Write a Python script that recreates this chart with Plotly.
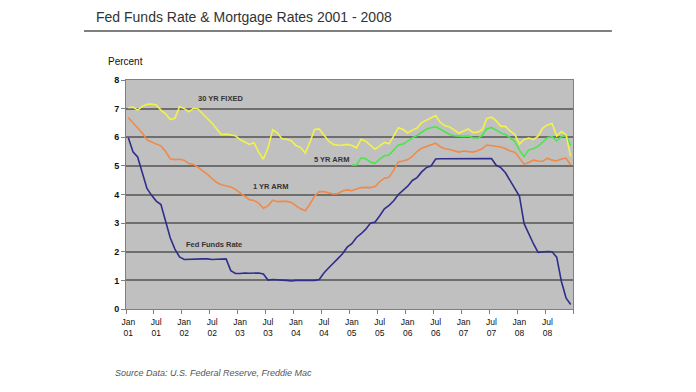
import plotly.graph_objects as go

# month index 0 = Jan 2001 ... 95 = Dec 2008
months = list(range(96))

fed_funds = [5.98, 5.49, 5.31, 4.80, 4.21, 3.97, 3.77, 3.65, 3.07, 2.49, 2.09, 1.82,
             1.73, 1.74, 1.73, 1.75, 1.75, 1.75, 1.73, 1.74, 1.75, 1.75, 1.34, 1.24,
             1.24, 1.26, 1.25, 1.26, 1.26, 1.22, 1.01, 1.03, 1.01, 1.01, 1.00, 0.98,
             1.00, 1.01, 1.00, 1.00, 1.00, 1.03, 1.26, 1.43, 1.61, 1.76, 1.93, 2.16,
             2.28, 2.50, 2.63, 2.79, 3.00, 3.04, 3.26, 3.50, 3.62, 3.78, 4.00, 4.16,
             4.29, 4.49, 4.59, 4.79, 4.94, 4.99, 5.24, 5.25, 5.25, 5.25, 5.25, 5.24,
             5.25, 5.26, 5.26, 5.25, 5.25, 5.25, 5.26, 5.02, 4.94, 4.76, 4.49, 4.24,
             3.94, 2.98, 2.61, 2.28, 1.98, 2.00, 2.01, 2.00, 1.81, 0.97, 0.39, 0.16]

fixed_30 = [7.03, 7.05, 6.95, 7.08, 7.15, 7.16, 7.13, 6.95, 6.82, 6.62, 6.66, 7.07,
            7.00, 6.89, 7.01, 6.99, 6.81, 6.65, 6.49, 6.29, 6.09, 6.11, 6.07, 6.05,
            5.92, 5.84, 5.75, 5.81, 5.48, 5.23, 5.63, 6.26, 6.15, 5.95, 5.93, 5.88,
            5.71, 5.64, 5.45, 5.83, 6.27, 6.29, 6.06, 5.87, 5.75, 5.72, 5.73, 5.75,
            5.71, 5.63, 5.93, 5.86, 5.72, 5.58, 5.70, 5.82, 5.77, 6.07, 6.33, 6.27,
            6.15, 6.25, 6.32, 6.51, 6.60, 6.68, 6.76, 6.52, 6.40, 6.36, 6.24, 6.14,
            6.22, 6.29, 6.16, 6.18, 6.26, 6.66, 6.70, 6.57, 6.38, 6.38, 6.21, 6.10,
            5.76, 5.92, 5.97, 5.92, 6.04, 6.32, 6.43, 6.48, 6.04, 6.20, 6.09, 5.33]

arm_1yr = [6.68, 6.50, 6.35, 6.15, 5.91, 5.82, 5.76, 5.70, 5.50, 5.25, 5.22, 5.23,
           5.20, 5.08, 5.05, 4.95, 4.83, 4.70, 4.55, 4.42, 4.34, 4.30, 4.26, 4.18,
           4.05, 3.92, 3.82, 3.79, 3.70, 3.52, 3.60, 3.80, 3.75, 3.76, 3.76, 3.72,
           3.60, 3.50, 3.43, 3.66, 3.95, 4.10, 4.10, 4.06, 4.02, 4.03, 4.12, 4.16,
           4.13, 4.19, 4.24, 4.25, 4.24, 4.28, 4.45, 4.57, 4.60, 4.85, 5.14, 5.17,
           5.22, 5.33, 5.50, 5.62, 5.67, 5.73, 5.79, 5.67, 5.60, 5.57, 5.53, 5.48,
           5.52, 5.50, 5.48, 5.53, 5.60, 5.73, 5.71, 5.69, 5.66, 5.60, 5.52, 5.48,
           5.27, 5.06, 5.12, 5.20, 5.17, 5.16, 5.27, 5.20, 5.17, 5.24, 5.27, 5.03]

arm_5yr_months = list(range(48, 96))
arm_5yr = [5.03, 5.03, 5.28, 5.25, 5.13, 5.09, 5.24, 5.35, 5.38, 5.56, 5.73, 5.76,
           5.88, 5.98, 6.06, 6.17, 6.28, 6.33, 6.37, 6.28, 6.18, 6.10, 6.05, 6.03,
           6.03, 6.04, 5.98, 5.97, 6.06, 6.30, 6.34, 6.25, 6.15, 6.10, 5.97, 5.86,
           5.55, 5.32, 5.56, 5.60, 5.68, 5.82, 5.98, 6.02, 5.87, 6.02, 6.06, 5.72]

tick_pos = list(range(0, 96, 6))
tick_text = [f"{'Jan' if i % 12 == 0 else 'Jul'}<br>{(1 + i // 12):02d}" for i in tick_pos]
boundary_ticks = [i - 0.5 for i in range(0, 97, 6)]
y_ticks = list(range(0, 9))
y_text = [f"<b>{v}</b>" for v in y_ticks]

FONT = "Liberation Sans, Arial, sans-serif"

fig = go.Figure()
fig.add_trace(go.Scatter(x=months, y=fed_funds, mode="lines", name="Fed Funds Rate",
                         line=dict(color="#2E2E8C", width=1.6)))
fig.add_trace(go.Scatter(x=months, y=arm_1yr, mode="lines", name="1 YR ARM",
                         line=dict(color="#F08A48", width=1.6)))
fig.add_trace(go.Scatter(x=arm_5yr_months, y=arm_5yr, mode="lines", name="5 YR ARM",
                         line=dict(color="#4CE64C", width=1.6)))
fig.add_trace(go.Scatter(x=months, y=fixed_30, mode="lines", name="30 YR FIXED",
                         line=dict(color="#F2F24C", width=1.6)))

label_font = dict(family=FONT, size=7.5, color="#333333")
for txt, xm, yv in [("30 YR FIXED", 19.9, 7.34), ("5 YR ARM", 43.6, 5.21),
                    ("1 YR ARM", 30.5, 4.27), ("Fed Funds Rate", 18.3, 2.24)]:
    fig.add_annotation(x=xm, y=yv, xref="x", yref="y", text=f"<b>{txt}</b>",
                       showarrow=False, font=label_font)

fig.add_annotation(x=-0.072, y=1.275, xref="paper", yref="paper", xanchor="left",
                   yanchor="middle", text="Fed Funds Rate &amp; Mortgage Rates 2001 - 2008",
                   showarrow=False, font=dict(family=FONT, size=14, color="#333333"))
fig.add_annotation(x=-0.045, y=1.079, xref="paper", yref="paper", xanchor="left",
                   yanchor="middle", text="Percent", showarrow=False,
                   font=dict(family=FONT, size=10, color="#111111"))
fig.add_annotation(x=-0.028, y=-0.279, xref="paper", yref="paper", xanchor="left",
                   yanchor="middle", text="<i>Source Data: U.S. Federal Reserve, Freddie Mac</i>",
                   showarrow=False, font=dict(family=FONT, size=9, color="#555555"))

fig.add_shape(type="line", xref="paper", yref="paper", x0=-0.094, x1=1.087,
              y0=1.214, y1=1.214, line=dict(color="#555555", width=1.5))

fig.update_layout(
    width=688, height=384,
    margin=dict(l=118, r=123, t=72, b=83),
    paper_bgcolor="white", plot_bgcolor="#C0C0C0",
    showlegend=False,
    font=dict(family=FONT, size=9, color="#111111"),
    xaxis=dict(range=[-0.5, 95.5], tickvals=tick_pos, ticktext=tick_text,
               ticks="", showgrid=False, zeroline=False, ticklabelstandoff=5,
               showline=True, linecolor="#808080", linewidth=1, mirror=True,
               tickfont=dict(family=FONT, size=8.5, color="#111111"),
               minor=dict(tickvals=boundary_ticks, ticks="outside", ticklen=4,
                          tickcolor="#808080", showgrid=False)),
    yaxis=dict(range=[0, 8], tickvals=y_ticks, ticktext=y_text, ticks="outside",
               ticklen=4, tickcolor="#808080",
               showgrid=True, gridcolor="#6E6E6E", gridwidth=1.5, zeroline=False,
               showline=True, linecolor="#808080", linewidth=1, mirror=True,
               tickfont=dict(family=FONT, size=9, color="#111111")),
)

fig.write_html("out.html")
